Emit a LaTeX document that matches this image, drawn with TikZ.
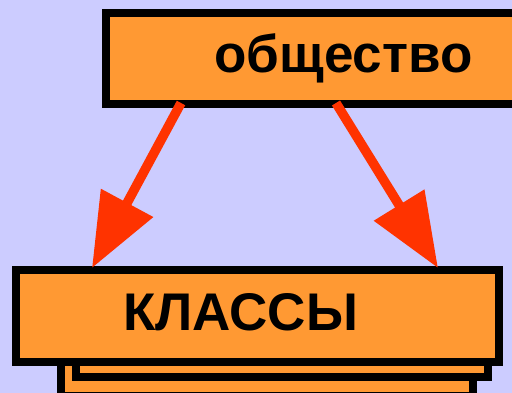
\documentclass[tikz,border=0pt]{standalone}
\usepackage{fontspec}
\setmainfont{Liberation Sans}
\usetikzlibrary{arrows.meta,calc}
\definecolor{bgc}{HTML}{CCCCFF}
\definecolor{boxc}{HTML}{FF9933}
\definecolor{arrc}{HTML}{FF3300}
\tikzset{
  box/.style={draw=black, line width=8pt, fill=boxc, rectangle, inner sep=0pt, outer sep=0pt},
  lbl/.style={font=\fontsize{53}{53}\selectfont\bfseries, text=black, inner sep=0pt, anchor=base},
  arr/.style={draw=arrc, line width=9.5pt, -{Triangle[length=74pt,width=57pt]}, arrc}
}
\begin{document}
\begin{tikzpicture}[x=1pt,y=-1pt]
\useasboundingbox (0,0) rectangle (512,393);
\fill[bgc] (0,0) rectangle (512,393);
% stacked boxes
\node[box, minimum width=412pt, minimum height=98pt] (cls3) at (267,347) {};
\node[box, minimum width=412pt, minimum height=93pt] (cls2) at (282,330.5) {};
\node[box, minimum width=483pt, minimum height=92pt] (cls) at (257.5,316) {};
% top box
\node[box, minimum width=424pt, minimum height=91pt] (soc) at (318,58.5) {};
% arrows
\draw[arr] ($(soc.south west)+(75,-1)$) -- ($(cls.north west)+(76,-2)$);
\draw[arr] ($(soc.south west)+(230,-1)$) -- ($(cls.north west)+(422,-2)$);
% labels
\node[lbl] (t1) at (343.5,73) {общество};
\node[lbl] (t2) at (240.5,330) {КЛАССЫ};
\end{tikzpicture}
\end{document}
